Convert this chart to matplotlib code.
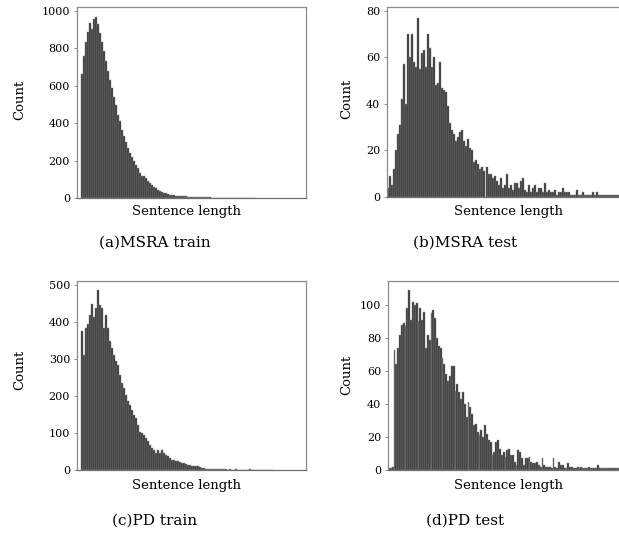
import matplotlib
matplotlib.use("Agg")
import matplotlib.pyplot as plt
import numpy as np

# bar heights (one value per bin, left to right)
msra_train = [660, 760, 835, 885, 935, 900, 955, 965, 930, 880, 835, 785, 730, 680, 630,
              585, 540, 495, 445, 410, 365, 330, 300, 265, 240, 220, 200, 175, 160, 135,
              120, 115, 105, 90, 78, 68, 60, 52, 43, 37, 33, 28, 25, 20, 16, 18, 15, 13,
              12, 11, 10, 9, 9, 8, 7, 6, 8, 5, 5, 4, 4, 4, 3, 3, 3, 2, 2, 2, 2, 2, 1, 2,
              1, 1, 2, 1, 1, 1, 1, 1, 1, 1, 1, 1, 1, 1, 1]

msra_test = [4, 9, 5, 12, 20, 27, 31, 42, 57, 40, 70, 60, 70, 58, 56, 77, 55, 62, 63, 56,
             70, 64, 56, 60, 48, 49, 58, 47, 46, 45, 39, 32, 29, 27, 24, 26, 28, 29, 24,
             22, 25, 21, 20, 15, 16, 14, 12, 13, 11, 13, 10, 10, 8, 9, 7, 5, 8, 4, 5, 10,
             4, 5, 3, 6, 6, 4, 7, 8, 3, 2, 5, 2, 4, 5, 2, 4, 4, 2, 6, 2, 3, 2, 2, 3, 1,
             2, 2, 4, 2, 2, 2, 1, 1, 1, 3, 1, 1, 2, 1, 1, 1, 1, 2, 1, 2, 1, 1, 1, 1, 1,
             1, 1, 1, 1, 1, 1]

pd_train = [375, 312, 385, 395, 420, 450, 415, 438, 487, 447, 438, 384, 420, 384, 349,
            330, 312, 295, 285, 258, 235, 222, 204, 186, 177, 163, 150, 141, 122, 104,
            100, 95, 86, 78, 68, 59, 55, 46, 55, 46, 55, 46, 41, 37, 32, 28, 26, 24, 25,
            22, 20, 18, 16, 14, 13, 12, 12, 11, 10, 8, 6, 5, 4, 4, 3, 3, 3, 2, 3, 2, 2,
            3, 2, 1, 2, 1, 1, 2, 1, 1, 1, 1, 1, 1, 2, 1, 1, 1, 1, 1, 1, 1, 1, 1, 1, 1]

pd_test = [1, 1, 2, 73, 64, 74, 82, 88, 89, 87, 98, 109, 91, 102, 100, 101, 90, 98, 91, 96,
           74, 82, 79, 95, 97, 92, 80, 75, 74, 68, 64, 58, 54, 57, 63, 63, 48, 52, 47, 43,
           47, 40, 32, 41, 38, 34, 27, 28, 23, 21, 24, 20, 27, 22, 18, 17, 9, 11, 17, 18,
           13, 9, 11, 8, 12, 13, 9, 9, 5, 3, 12, 11, 7, 3, 7, 7, 8, 5, 4, 4, 5, 3, 2, 7,
           3, 2, 2, 2, 1, 7, 2, 1, 5, 3, 3, 1, 1, 4, 2, 2, 1, 1, 2, 1, 2, 1, 1, 1, 2, 1,
           1, 1, 1, 3, 1, 1, 1, 1, 1, 1, 1, 1, 1, 1, 1]

panel_titles = ["(a)MSRA train", "(b)MSRA test", "(c)PD train", "(d)PD test"]
panel_yticks = [[0, 200, 400, 600, 800, 1000], [0, 20, 40, 60, 80],
                [0, 100, 200, 300, 400, 500], [0, 20, 40, 60, 80, 100]]

W, H = 619, 534
plt.rcParams["font.family"] = ["DejaVu Serif"]

fig = plt.figure(figsize=(W / 100, H / 100), dpi=100)


def px_axes(left, top, right, bottom):
    return fig.add_axes([left / W, 1 - bottom / H, (right - left) / W, (bottom - top) / H])


# (data, axes box in px, xlim, ylim top, "Count" x/y px, column centre, xlabel y, title y)
panels = [
    (msra_train, (77, 7, 306, 198), (-2.5, 112.0), 1020, 20, 100, 155, 186, 211, 243),
    (msra_test, (387, 7, 622, 197), (-0.75, 116.75), 81.7, 347, 99, 465, 508, 211, 243),
    (pd_train, (77, 281, 306, 470), (-2.5, 112.0), 511, 20, 370, 155, 186, 486, 521),
    (pd_test, (388, 281, 622, 470), (-0.5, 126.0), 114.5, 347, 375, 465, 508, 486, 521),
]

for k, (vals, box, xl, ytop, ylx, yly, tcx, xlx, xly, ty) in enumerate(panels):
    ax = px_axes(*box)
    ax.bar(np.arange(len(vals)), vals, width=1.0, color="#2f2f2f",
           edgecolor="#8f8f8f", linewidth=0.35)
    ax.set_xlim(*xl)
    ax.set_ylim(0, ytop)
    ax.set_xticks([])
    ax.set_yticks(panel_yticks[k])
    ax.tick_params(axis="y", length=2, width=0.6, color="#808080", pad=3, labelsize=8)
    for s in ax.spines.values():
        s.set_color("#8c8c8c")
        s.set_linewidth(0.9)
    ax.spines["bottom"].set_color("#6e6e6e")

    fig.text(xlx / W, 1 - xly / H, "Sentence length", ha="center", va="center", fontsize=9.5)
    fig.text(ylx / W, 1 - yly / H, "Count", ha="center", va="center", rotation=90, fontsize=9.5)
    fig.text(tcx / W, 1 - ty / H, panel_titles[k], ha="center", va="center", fontsize=11)

fig.savefig("out.png", dpi=100)
